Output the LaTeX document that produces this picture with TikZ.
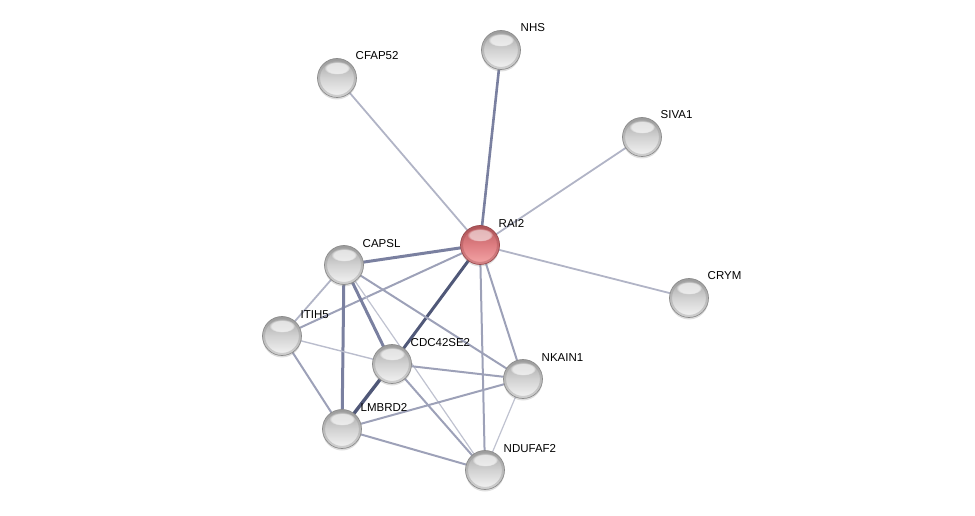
\documentclass[tikz,border=0pt]{standalone}
\usepackage{fontspec}
\setmainfont{Liberation Sans}
\usetikzlibrary{backgrounds,calc,fadings,shadows}
\definecolor{eMed}{HTML}{9DA1B8}
\definecolor{eThk}{HTML}{7A80A0}
\definecolor{eDark}{HTML}{505878}
\definecolor{eThin}{HTML}{BFC2D0}
\definecolor{bTop}{HTML}{A4A4A4}
\definecolor{bMid}{HTML}{D2D2D2}
\definecolor{bBot}{HTML}{F4F4F4}
\definecolor{bRim}{HTML}{8C8C8C}
\definecolor{rTop}{HTML}{B85A5E}
\definecolor{rMid}{HTML}{DE7E82}
\definecolor{rBot}{HTML}{F4A6A8}
\definecolor{rRim}{HTML}{9A4A4E}
\tikzset{
  ball/.style={circle, minimum size=39pt, inner sep=0pt,
    top color=bTop, bottom color=bBot, middle color=bMid,
    draw=bRim, line width=0.7pt,
    drop shadow={shadow xshift=0pt, shadow yshift=-2pt, opacity=0.25},
    path picture={
      \draw[bRim, line width=2.5pt, opacity=0.35] (path picture bounding box.center) circle (18.2);
      \fill[white, opacity=0.65, path fading=circle with fuzzy edge 20 percent]
        ($(path picture bounding box.center)+(0,-10)$) ellipse (13 and 6.5);}},
  redball/.style={ball, top color=rTop, bottom color=rBot, middle color=rMid, draw=rRim,
    path picture={
      \draw[rRim, line width=2.5pt, opacity=0.35] (path picture bounding box.center) circle (18.2);
      \fill[white, opacity=0.55, path fading=circle with fuzzy edge 20 percent]
        ($(path picture bounding box.center)+(0,-10)$) ellipse (13 and 6.5);}},
  lbl/.style={anchor=base west, inner sep=0.5pt, font=\fontsize{11.5}{13}\selectfont},
  emed/.style={draw=eMed, line width=2pt},
  ethk/.style={draw=eThk, line width=3pt},
  edark/.style={draw=eDark, line width=3pt},
  ethin/.style={draw=eThin, line width=1.2pt},
  elite/.style={draw=eMed!80!white, line width=1.8pt},
}
\begin{document}
\begin{tikzpicture}[x=1pt, y=-1pt]
\useasboundingbox (0,0) rectangle (975,516);
\node[ball] (nhs) at (501,50) {};
\node[ball] (cfap) at (337,78) {};
\node[ball] (siva) at (642,137) {};
\node[redball] (rai) at (480,245) {};
\node[ball] (capsl) at (344,265) {};
\node[ball] (crym) at (689,298) {};
\node[ball] (itih) at (282,336) {};
\node[ball] (cdc) at (392,364) {};
\node[ball] (nkain) at (523,379) {};
\node[ball] (lmbrd) at (342,429) {};
\node[ball] (nduf) at (485,470) {};

\node[lbl] (l-nhs) at ($(nhs.center)+(19,-18)$) {NHS};
\node[lbl] (l-cfap) at ($(cfap.center)+(18,-18)$) {CFAP52};
\node[lbl] (l-siva) at ($(siva.center)+(18,-18)$) {SIVA1};
\node[lbl] (l-rai) at ($(rai.center)+(18,-18)$) {RAI2};
\node[lbl] (l-capsl) at ($(capsl.center)+(18,-18)$) {CAPSL};
\node[lbl] (l-crym) at ($(crym.center)+(18,-19)$) {CRYM};
\node[lbl] (l-itih) at ($(itih.center)+(18,-18)$) {ITIH5};
\node[lbl] (l-cdc) at ($(cdc.center)+(18,-18)$) {CDC42SE2};
\node[lbl] (l-nkain) at ($(nkain.center)+(18,-18)$) {NKAIN1};
\node[lbl] (l-lmbrd) at ($(lmbrd.center)+(18,-18)$) {LMBRD2};
\node[lbl] (l-nduf) at ($(nduf.center)+(18,-18)$) {NDUFAF2};

\begin{pgfonlayer}{background}
\path[draw=eThk, line width=2.6pt] (rai.center) -- (nhs.center);
\path[elite] (rai.center) -- (cfap.center);
\path[elite] (rai.center) -- (siva.center);
\path[elite] (rai.center) -- (crym.center);
\path[ethk] (rai.center) -- (capsl.center);
\path[emed] (rai.center) -- (itih.center);
\path[edark] (rai.center) -- (cdc.center);
\path[emed] (rai.center) -- (nkain.center);
\path[emed] (rai.center) -- (nduf.center);
\path[elite] (capsl.center) -- (itih.center);
\path[ethk] (capsl.center) -- (lmbrd.center);
\path[ethk] (capsl.center) -- (cdc.center);
\path[emed] (capsl.center) -- (nkain.center);
\path[ethin] (capsl.center) -- (nduf.center);
\path[draw=eMed!70!white, line width=1.4pt] (itih.center) -- (cdc.center);
\path[emed] (itih.center) -- (lmbrd.center);
\path[draw=eDark, line width=3.4pt] (cdc.center) -- (lmbrd.center);
\path[emed] (cdc.center) -- (nkain.center);
\path[emed] (cdc.center) -- (nduf.center);
\path[emed] (lmbrd.center) -- (nkain.center);
\path[emed] (lmbrd.center) -- (nduf.center);
\path[ethin] (nkain.center) -- (nduf.center);
\end{pgfonlayer}
\end{tikzpicture}
\end{document}
